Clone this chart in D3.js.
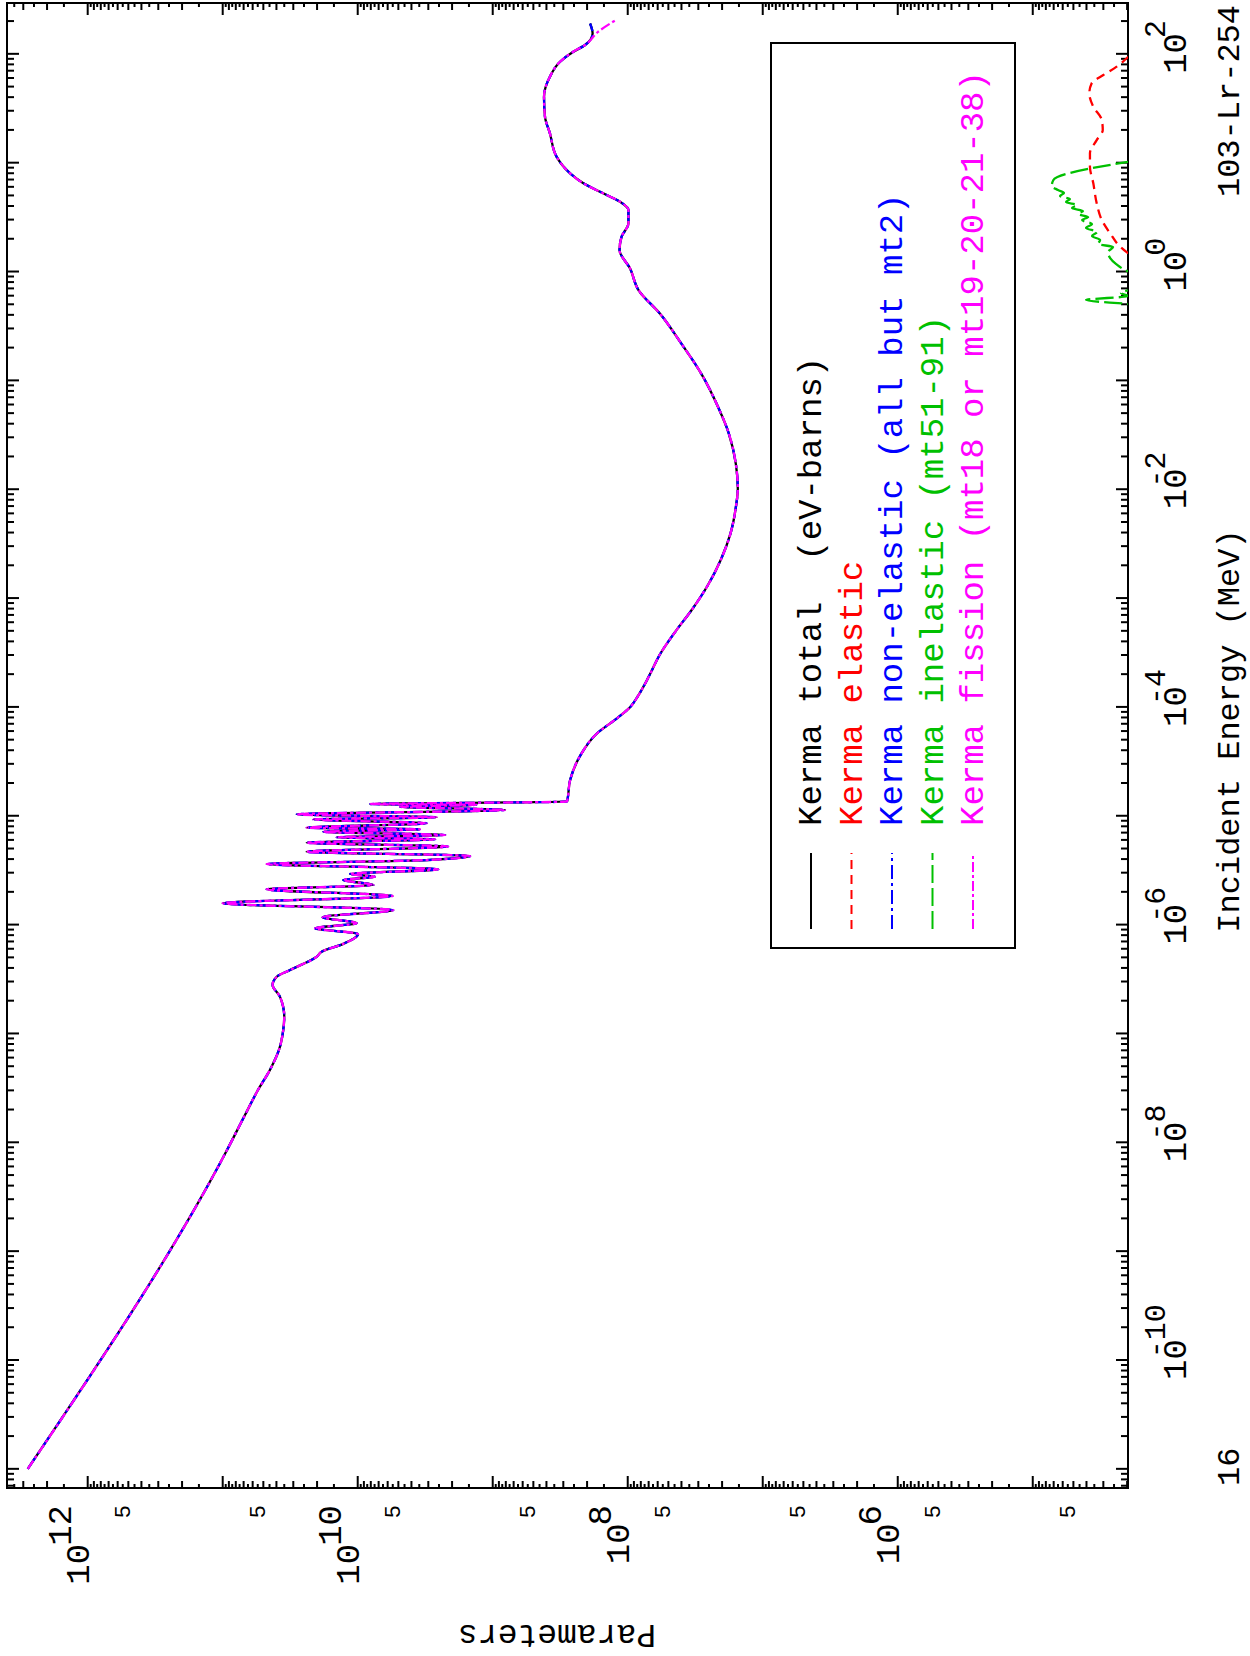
<!DOCTYPE html>
<html><head><meta charset="utf-8">
<script src="https://cdn.jsdelivr.net/npm/d3@7/dist/d3.min.js"></script>
<style>body{margin:0;background:#fff}text{font-family:"Liberation Mono","DejaVu Sans Mono",monospace;white-space:pre}</style>
</head><body>
<svg id="chart" width="1250" height="1656"></svg>
<script>
// ---------- DATA ----------
const energyMeV = [1.0e-11, 8.49e-9, 1.78e-8, 3.02e-8, 4.62e-8, 7.05e-8, 1.08e-7, 1.43e-7, 2.18e-7, 2.79e-7,
  3.32e-7, 3.83e-7, 5.07e-7, 5.64e-7, 6.65e-7, 8.20e-7, 9.25e-7, 1.03e-6, 1.17e-6, 1.36e-6,
  1.57e-6, 1.83e-6, 2.11e-6, 2.31e-6, 2.57e-6, 2.75e-6, 2.92e-6, 3.22e-6, 3.60e-6, 3.92e-6,
  4.27e-6, 4.67e-6, 5.22e-6, 5.65e-6, 6.08e-6, 6.34e-6, 6.65e-6, 7.13e-6, 7.51e-6, 7.76e-6,
  8.53e-6, 9.27e-6, 9.68e-6, 1.03e-5, 1.13e-5, 1.21e-5, 1.26e-5, 1.28e-5, 1.35e-5, 2.13e-5,
  3.63e-5, 5.67e-5, 7.93e-5, 1.0e-4, 1.29e-4, 1.94e-4, 3.03e-4, 4.95e-4, 7.73e-4, 1.29e-3,
  2.26e-3, 3.95e-3, 6.90e-3, 1.01e-2, 1.69e-2, 3.30e-2, 5.76e-2, 0.1125, 0.220, 0.411,
  0.672, 1.07, 1.58, 2.09, 2.77, 3.67, 4.38, 5.23, 6.46,
  7.98, 11.3, 18.6, 26.4, 40.3, 61.6, 84.6, 104.5, 120.5, 154, 190];
const kermaTotal = [2.78e12, 9.29e10, 6.84e10, 5.48e10, 4.47e10, 3.83e10, 3.56e10, 3.50e10, 3.77e10, 4.27e10,
  3.98e10, 3.17e10, 2.01e10, 1.85e10, 1.28e10, 9.95e9, 2.07e10, 1.02e10, 1.82e10, 5.45e9,
  1.0e11, 5.51e9, 4.72e10, 7.66e9, 1.28e10, 7.45e9, 1.14e10, 2.53e9, 4.72e10, 3.08e9,
  1.47e9, 2.39e10, 2.14e9, 2.39e10, 2.67e9, 1.43e10, 2.25e9, 1.80e10, 3.46e9, 2.39e10,
  3.08e9, 2.13e10, 2.60e9, 2.83e10, 8.11e8, 4.86e9, 1.32e9, 8.11e9, 2.82e8, 2.67e8,
  2.23e8, 1.70e8, 1.19e8, 9.57e7, 8.30e7, 6.92e7, 5.78e7, 4.42e7, 3.37e7, 2.57e7,
  2.04e7, 1.73e7, 1.58e7, 1.53e7, 1.58e7, 1.79e7, 2.15e7, 2.82e7, 4.03e7, 5.78e7,
  8.30e7, 9.62e7, 1.15e8, 1.11e8, 9.88e7, 9.88e7, 1.14e8, 1.52e8, 2.13e8,
  2.67e8, 3.36e8, 3.77e8, 4.10e8, 4.17e8, 3.77e8, 3.17e8, 2.53e8, 2.07e8, 1.82e8, 1.90e8];
const kermaNonElastic = [2.78e12, 9.29e10, 6.84e10, 5.48e10, 4.47e10, 3.83e10, 3.56e10, 3.50e10, 3.77e10, 4.27e10,
  3.98e10, 3.17e10, 2.01e10, 1.85e10, 1.28e10, 9.95e9, 2.07e10, 1.02e10, 1.82e10, 5.45e9,
  1.0e11, 5.51e9, 4.72e10, 7.66e9, 1.28e10, 7.45e9, 1.14e10, 2.53e9, 4.72e10, 3.08e9,
  1.47e9, 2.39e10, 2.14e9, 2.39e10, 2.67e9, 1.43e10, 2.25e9, 1.80e10, 3.46e9, 2.39e10,
  3.08e9, 2.13e10, 2.60e9, 2.83e10, 8.11e8, 4.86e9, 1.32e9, 8.11e9, 2.82e8, 2.67e8,
  2.23e8, 1.70e8, 1.19e8, 9.57e7, 8.30e7, 6.92e7, 5.78e7, 4.42e7, 3.37e7, 2.57e7,
  2.04e7, 1.73e7, 1.58e7, 1.53e7, 1.58e7, 1.79e7, 2.15e7, 2.82e7, 4.03e7, 5.78e7,
  8.30e7, 9.62e7, 1.15e8, 1.11e8, 9.88e7, 9.88e7, 1.14e8, 1.52e8, 2.13e8,
  2.67e8, 3.36e8, 3.77e8, 4.10e8, 4.17e8, 3.77e8, 3.17e8, 2.53e8, 2.07e8, 1.82e8, 1.90e8];
const fissionEnergyMeV = [1.0e-11, 8.49e-9, 1.78e-8, 3.02e-8, 4.62e-8, 7.05e-8, 1.08e-7, 1.43e-7, 2.18e-7, 2.79e-7,
  3.32e-7, 3.83e-7, 5.07e-7, 5.64e-7, 6.65e-7, 8.20e-7, 9.25e-7, 1.03e-6, 1.17e-6, 1.36e-6,
  1.57e-6, 1.83e-6, 2.11e-6, 2.31e-6, 2.57e-6, 2.75e-6, 2.92e-6, 3.22e-6, 3.60e-6, 3.92e-6,
  4.27e-6, 4.67e-6, 5.22e-6, 5.65e-6, 6.08e-6, 6.34e-6, 6.65e-6, 7.13e-6, 7.51e-6, 7.76e-6,
  8.53e-6, 9.27e-6, 9.68e-6, 1.03e-5, 1.13e-5, 1.21e-5, 1.26e-5, 1.28e-5, 1.35e-5, 2.13e-5,
  3.63e-5, 5.67e-5, 7.93e-5, 1.0e-4, 1.29e-4, 1.94e-4, 3.03e-4, 4.95e-4, 7.73e-4, 1.29e-3,
  2.26e-3, 3.95e-3, 6.90e-3, 1.01e-2, 1.69e-2, 3.30e-2, 5.76e-2, 0.1125, 0.220, 0.411,
  0.672, 1.07, 1.58, 2.09, 2.77, 3.67, 4.38, 5.23, 6.46,
  7.98, 11.3, 18.6, 26.4, 40.3, 61.6, 84.6, 104.5, 120.5, 159, 205];
const kermaFission = [2.78e12, 9.29e10, 6.84e10, 5.48e10, 4.47e10, 3.83e10, 3.56e10, 3.50e10, 3.77e10, 4.27e10,
  3.98e10, 3.17e10, 2.01e10, 1.85e10, 1.28e10, 9.95e9, 2.07e10, 1.02e10, 1.82e10, 5.45e9,
  1.0e11, 5.51e9, 4.72e10, 7.66e9, 1.28e10, 7.45e9, 1.14e10, 2.53e9, 4.72e10, 3.08e9,
  1.47e9, 2.39e10, 2.14e9, 2.39e10, 2.67e9, 1.43e10, 2.25e9, 1.80e10, 3.46e9, 2.39e10,
  3.08e9, 2.13e10, 2.60e9, 2.83e10, 8.11e8, 4.86e9, 1.32e9, 8.11e9, 2.82e8, 2.67e8,
  2.23e8, 1.70e8, 1.19e8, 9.57e7, 8.30e7, 6.92e7, 5.78e7, 4.42e7, 3.37e7, 2.57e7,
  2.04e7, 1.73e7, 1.58e7, 1.53e7, 1.58e7, 1.79e7, 2.15e7, 2.82e7, 4.03e7, 5.78e7,
  8.30e7, 9.62e7, 1.15e8, 1.11e8, 9.88e7, 9.88e7, 1.14e8, 1.52e8, 2.13e8,
  2.67e8, 3.36e8, 3.77e8, 4.10e8, 4.17e8, 3.77e8, 3.17e8, 2.53e8, 2.07e8, 1.66e8, 1.22e8];
const elasticEnergyMeV = [1.47, 1.69, 2.24, 2.97, 4.24, 6.46, 9.18, 12.2, 16.1, 20.0, 24.7, 32.7, 43.4, 53.6, 63.8, 76.2, 94.0];
const kermaElastic = [1.96e4, 2.25e4, 2.67e4, 3.08e4, 3.36e4, 3.56e4, 3.77e4, 3.77e4, 3.36e4, 3.03e4, 3.08e4, 3.56e4, 3.81e4, 3.66e4, 3.00e4, 2.39e4, 1.96e4];
const inelasticEnergyMeV = [0.45, 0.503, 0.547, 0.596, 0.634, 0.80, 1.0, 1.17, 1.33, 1.51, 1.68, 1.79, 1.95, 2.12, 2.31, 2.51,
  2.73, 2.97, 3.17, 3.37, 3.60, 3.83, 4.08, 4.35, 4.63, 4.94, 5.26, 5.61, 6.10, 6.93, 10.2];
const kermaInelastic = [1.0e4, 1.96e4, 4.03e4, 1.96e4, 2.22e4, 1.0e4, 1.96e4, 2.41e4, 2.67e4, 2.77e4, 2.54e4, 3.28e4, 3.17e4, 3.64e4, 3.34e4, 4.03e4,
  3.64e4, 4.31e4, 3.89e4, 4.61e4, 4.24e4, 5.12e4, 4.70e4, 5.67e4, 5.30e4, 6.28e4, 5.87e4, 6.50e4, 7.23e4, 7.03e4, 1.96e4];

const xLabelExponents = [-10, -8, -6, -4, -2, 0, 2];
const xTickExponents = [-12, -11, -10, -9, -8, -7, -6, -5, -4, -3, -2, -1, 0, 1, 2];
const xTickMultipliers = [1, 2, 3, 4, 5, 6, 7, 8, 9];
const yLabelExponents = [12, 10, 8, 6];
const yFiveLabelExponents = [11, 10, 9, 8, 7, 6, 5, 4];
const yTickExponents = [4, 5, 6, 7, 8, 9, 10, 11, 12];
const yTickMultipliers = [1, 1.5, 2, 2.5, 3, 3.5, 4, 4.5, 5, 5.5, 6, 6.5, 7, 7.5, 8, 8.5, 9, 9.5];
const legendLabels = ["Kerma total  (eV-barns)", "Kerma elastic", "Kerma non-elastic (all but mt2)",
  "Kerma inelastic (mt51-91)", "Kerma fission (mt18 or mt19-20-21-38)"];
const seriesColors = ["#000000", "#ff0000", "#0000ff", "#00c000", "#ff00ff"];
const seriesDashes = [null, "9,6", "14,4,3,4", "18,5", "10,3,3,3"];
const titleText = "103-Lr-254";
const pageText = "16";
const xTitle = "Incident Energy (MeV)";
const yTitle = "Parameters";

// ---------- DRAW ----------
const W = 1250, H = 1656;
const svg = d3.select("#chart");
svg.append("rect").attr("width", W).attr("height", H).attr("fill", "#fff");
// the whole plot is drawn in its own (landscape) frame and turned 90deg counter-clockwise
const g = svg.append("g").attr("transform", `translate(0,${H}) rotate(-90)`);

const L = 168, R = 1653, T = 7, B = 1128;
const x = d3.scaleLog().domain([Math.pow(10, -11.176), Math.pow(10, 2.467)]).range([L, R]);
const y = d3.scaleLog().domain([Math.pow(10, 4.2945), Math.pow(10, 12.5977)]).range([B, T]);

g.append("clipPath").attr("id", "plotclip").append("rect")
  .attr("x", L).attr("y", T).attr("width", R - L).attr("height", B - T);

// ticks
const tickG = g.append("g").attr("stroke", "#000").attr("stroke-width", 2);
const [xd0, xd1] = x.domain();
xTickExponents.forEach(n => xTickMultipliers.forEach(m => {
  const v = m * Math.pow(10, n);
  if (v < xd0 || v > xd1) return;
  const len = m === 1 ? 12 : 7;
  const px = x(v);
  tickG.append("line").attr("x1", px).attr("x2", px).attr("y1", B).attr("y2", B - len);
  tickG.append("line").attr("x1", px).attr("x2", px).attr("y1", T).attr("y2", T + len);
}));
const [yd0, yd1] = y.domain();
yTickExponents.forEach(n => yTickMultipliers.forEach(m => {
  const v = m * Math.pow(10, n);
  if (v < yd0 || v > yd1) return;
  const len = m === 1 ? 12 : (Number.isInteger(m) ? 7 : 4);
  const py = y(v);
  tickG.append("line").attr("x1", L).attr("x2", L + len).attr("y1", py).attr("y2", py);
  tickG.append("line").attr("x1", R).attr("x2", R - len).attr("y1", py).attr("y2", py);
}));

// frame
g.append("rect").attr("x", L).attr("y", T).attr("width", R - L).attr("height", B - T)
  .attr("fill", "none").attr("stroke", "#000").attr("stroke-width", 2);

// x labels
xLabelExponents.forEach(n => {
  const t = g.append("text").attr("x", x(Math.pow(10, n)) - 20).attr("y", 1186)
    .style("font-size", "34px").attr("fill", "#000");
  t.append("tspan").text("10");
  t.append("tspan").attr("dy", -21).attr("dx", n < 0 ? -19 : -5)
    .style("font-size", "30px").text(n < 0 ? "-" + Math.abs(n) : String(n));
});
// y labels
yLabelExponents.forEach(n => {
  const t = g.append("text").attr("x", 151).attr("y", y(Math.pow(10, n)) + 1)
    .attr("text-anchor", "end").style("font-size", "34px").attr("fill", "#000");
  t.append("tspan").text("10");
  t.append("tspan").attr("dy", -18).attr("dx", -2).text(String(n));
});
yFiveLabelExponents.forEach(n => {
  g.append("text").attr("x", 151).attr("y", y(5 * Math.pow(10, n)) + 2)
    .attr("text-anchor", "end").style("font-size", "22px").text("5");
});

// titles
g.append("text").attr("x", 1651).attr("y", 1239).attr("text-anchor", "end").style("font-size", "32px").text(titleText);
g.append("text").attr("x", 170).attr("y", 1239).attr("text-anchor", "start").style("font-size", "32px").text(pageText);
g.append("text").attr("x", 925).attr("y", 1239).attr("text-anchor", "middle").style("font-size", "32px").text(xTitle);
g.append("text").attr("transform", "translate(31,557) rotate(-90)").attr("text-anchor", "middle")
  .style("font-size", "33px").text(yTitle);

// curves
const series = [
  {e: energyMeV, v: kermaTotal},
  {e: elasticEnergyMeV, v: kermaElastic},
  {e: energyMeV, v: kermaNonElastic},
  {e: inelasticEnergyMeV, v: kermaInelastic},
  {e: fissionEnergyMeV, v: kermaFission}
];
const line = d3.line().x(d => x(d[0])).y(d => y(d[1])).curve(d3.curveMonotoneX);
const curveG = g.append("g").attr("clip-path", "url(#plotclip)");
series.forEach((s, i) => {
  curveG.append("path").datum(s.e.map((e, k) => [e, s.v[k]]))
    .attr("d", line).attr("fill", "none").attr("stroke", seriesColors[i])
    .attr("stroke-width", 2.3).attr("stroke-dasharray", seriesDashes[i]);
});

// legend
const lg = g.append("g");
lg.append("rect").attr("x", 708).attr("y", 771).attr("width", 905).attr("height", 244)
  .attr("fill", "#fff").attr("stroke", "#000").attr("stroke-width", 2);
legendLabels.forEach((lab, i) => {
  const by = 821 + i * 40.5;
  lg.append("line").attr("x1", 727).attr("x2", 803).attr("y1", by - 10).attr("y2", by - 10)
    .attr("stroke", seriesColors[i]).attr("stroke-width", 2).attr("stroke-dasharray", seriesDashes[i]);
  lg.append("text").attr("x", 830).attr("y", by).attr("xml:space", "preserve")
    .style("font-size", "34px").attr("fill", seriesColors[i]).text(lab);
});
</script>
</body></html>
